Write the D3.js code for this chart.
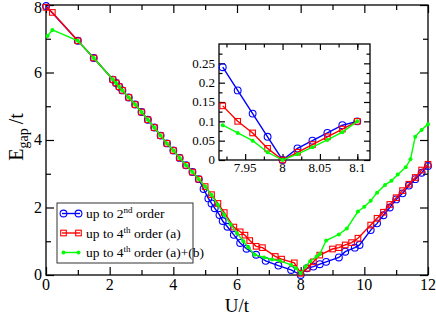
<!DOCTYPE html>
<meta charset="utf-8">
<script src="https://cdn.jsdelivr.net/npm/d3@7"></script>
<div id="my_dataviz"></div>
<script>
  // data
  var u2 = [0, 1.0, 1.5, 2.1, 2.2, 2.3, 2.4, 2.6, 2.8, 3.0, 3.2, 3.4, 3.6, 3.8, 4.0, 4.2, 4.4, 4.6, 4.8, 4.95, 5.1, 5.2, 5.3, 5.45, 5.55, 5.7, 5.9, 6.1, 6.3, 6.6, 6.9, 7.3, 7.7, 8.0, 8.2, 8.4, 8.6, 8.8, 9.2, 9.4, 9.7, 9.85, 10.2, 10.4, 10.6, 10.8, 11.0, 11.2, 11.4, 11.6, 11.8, 12.0];
  var e2 = [7.97, 6.94, 6.43, 5.79, 5.69, 5.58, 5.47, 5.26, 5.05, 4.83, 4.60, 4.37, 4.13, 3.90, 3.69, 3.47, 3.25, 3.05, 2.84, 2.55, 2.27, 2.12, 1.98, 1.78, 1.60, 1.43, 1.19, 0.95, 0.78, 0.60, 0.42, 0.28, 0.15, 0.0, 0.2, 0.25, 0.32, 0.39, 0.52, 0.69, 0.81, 0.89, 1.33, 1.53, 1.77, 2.0, 2.24, 2.42, 2.65, 2.84, 3.03, 3.23];

  var u4 = [0, 0.2, 1.0, 1.5, 2.1, 2.2, 2.3, 2.4, 2.6, 2.8, 3.0, 3.2, 3.4, 3.6, 3.8, 4.0, 4.2, 4.4, 4.6, 4.8, 5.0, 5.2, 5.4, 5.6, 5.9, 6.1, 6.25, 6.4, 6.6, 6.8, 7.2, 7.4, 7.8, 8.0, 8.2, 8.4, 8.6, 9.0, 9.2, 9.4, 9.6, 9.8, 10.2, 10.4, 10.6, 10.8, 11.0, 11.2, 11.4, 11.6, 11.8, 12.0];
  var e4 = [7.93, 7.78, 6.94, 6.43, 5.79, 5.69, 5.58, 5.47, 5.26, 5.05, 4.83, 4.60, 4.37, 4.13, 3.90, 3.69, 3.47, 3.25, 3.05, 2.84, 2.62, 2.38, 2.12, 1.85, 1.42, 1.28, 1.18, 1.02, 0.85, 0.81, 0.55, 0.47, 0.36, 0.05, 0.2, 0.39, 0.59, 0.77, 0.81, 0.89, 0.96, 1.09, 1.48, 1.68, 1.86, 2.09, 2.29, 2.5, 2.69, 2.89, 3.11, 3.28];

  var uAB = [0.05, 0.2, 1.0, 1.5, 2.1, 2.2, 2.3, 2.4, 2.6, 2.8, 3.0, 3.2, 3.4, 3.6, 3.8, 4.0, 4.2, 4.4, 4.6, 4.8, 5.0, 5.2, 5.4, 5.6, 5.8, 6.0, 6.2, 6.35, 6.55, 6.85, 7.1, 7.35, 7.7, 7.85, 8.0, 8.15, 8.3, 8.5, 8.6, 8.8, 9.2, 9.45, 9.8, 10.0, 10.2, 10.4, 10.65, 10.85, 11.05, 11.3, 11.45, 11.6, 11.8, 12.0];
  var eAB = [7.08, 7.26, 6.94, 6.43, 5.79, 5.69, 5.58, 5.47, 5.26, 5.05, 4.83, 4.60, 4.37, 4.13, 3.90, 3.69, 3.47, 3.25, 3.05, 2.84, 2.62, 2.37, 2.08, 1.78, 1.50, 1.24, 1.00, 0.82, 0.60, 0.52, 0.46, 0.42, 0.30, 0.2, 0.05, 0.25, 0.41, 0.55, 0.62, 1.02, 1.20, 1.38, 1.88, 2.02, 2.2, 2.44, 2.67, 2.79, 2.98, 3.19, 3.43, 4.1, 4.3, 4.47];

  // inset: zoom around U/t = 8
  var insetU = [7.92, 7.94, 7.96, 7.98, 8.0, 8.02, 8.04, 8.06, 8.08, 8.1];
  var inset2 = [0.24, 0.18, 0.12, 0.06, 0, 0.03, 0.05, 0.07, 0.09, 0.1];
  var inset4 = [0.14, 0.10, 0.07, 0.03, 0, 0.02, 0.04, 0.06, 0.08, 0.1];
  var insetAB = [0.09, 0.07, 0.05, 0.02, 0, 0.015, 0.033, 0.052, 0.072, 0.1];

  var xTicks = [0, 2, 4, 6, 8, 10, 12];
  var yTicks = [0, 2, 4, 6, 8];
  var insetXTicks = [7.95, 8, 8.05, 8.1];
  var insetYTicks = [0, 0.05, 0.1, 0.15, 0.2, 0.25];

  var legendLabels = [["up to 2", "nd", " order"], ["up to 4", "th", " order (a)"], ["up to 4", "th", " order (a)+(b)"]];

  var width = 436, height = 315;
  var svg = d3.select("#my_dataviz").append("svg")
    .attr("width", width).attr("height", height)
    .style("position", "absolute").style("left", "0px").style("top", "0px");

  var x = d3.scaleLinear().domain([0, 12]).range([46, 428]);
  var y = d3.scaleLinear().domain([0, 8]).range([275, 5]);

  var blue = "#0000ff", red = "#ff0000", green = "#00ff00";

  function zip(a, b) { return a.map(function (d, i) { return [d, b[i]]; }); }

  // text helper: always serif
  function txt(g) {
    return g.append("text").style("font-family", "'Liberation Serif'").attr("fill", "#000");
  }

  // ticks on all four sides, pointing inward; labels drawn by hand
  function frameAxes(g, xs, ys, xt, yt, xMinor, yMinor, major, minor, fontSize, fmt) {
    var r = xs.range(), ry = ys.range();
    var sides = [
      [d3.axisBottom(xs), "translate(0," + ry[0] + ")"],
      [d3.axisTop(xs), "translate(0," + ry[1] + ")"],
      [d3.axisLeft(ys), "translate(" + r[0] + ",0)"],
      [d3.axisRight(ys), "translate(" + r[1] + ",0)"]
    ];
    sides.forEach(function (s, i) {
      var isX = i < 2;
      g.append("g").attr("transform", s[1])
        .call(s[0].tickValues(isX ? xt : yt).tickSize(-major).tickFormat(""))
        .select(".domain").remove();
      g.append("g").attr("transform", s[1])
        .call(s[0].tickValues(isX ? xMinor : yMinor).tickSize(-minor).tickFormat(""))
        .select(".domain").remove();
    });
    g.selectAll(".tick line").attr("stroke", "#000").attr("stroke-width", 1.2);
    g.selectAll(".tick text").remove();
    xt.forEach(function (v) {
      txt(g).attr("x", xs(v)).attr("y", ry[0] + fontSize * 0.95)
        .attr("text-anchor", "middle").style("font-size", fontSize + "px").text(fmt(v));
    });
    yt.forEach(function (v) {
      var yy = Math.max(ys(v) + fontSize * 0.34, fontSize * 0.82);
      txt(g).attr("x", r[0] - 4).attr("y", yy)
        .attr("text-anchor", "end").style("font-size", fontSize + "px").text(fmt(v));
    });
    g.append("rect")
      .attr("x", r[0]).attr("y", ry[1])
      .attr("width", r[1] - r[0]).attr("height", ry[0] - ry[1])
      .attr("fill", "none").attr("stroke", "#000").attr("stroke-width", 1.3);
  }

  function drawSeries(g, xs, ys, pts, color, kind) {
    g.append("path").datum(pts)
      .attr("d", d3.line().x(function (d) { return xs(d[0]); }).y(function (d) { return ys(d[1]); }))
      .attr("fill", "none").attr("stroke", color).attr("stroke-width", 1.4);
    drawMarkers(g, pts.map(function (d) { return [xs(d[0]), ys(d[1])]; }), color, kind);
  }

  function drawMarkers(g, pix, color, kind) {
    if (kind === "circle") {
      g.selectAll(null).data(pix).enter().append("circle")
        .attr("cx", function (d) { return d[0]; }).attr("cy", function (d) { return d[1]; })
        .attr("r", 3.4).attr("fill", "none").attr("stroke", color).attr("stroke-width", 1.1);
    } else if (kind === "square") {
      g.selectAll(null).data(pix).enter().append("rect")
        .attr("x", function (d) { return d[0] - 2.8; }).attr("y", function (d) { return d[1] - 2.8; })
        .attr("width", 5.6).attr("height", 5.6)
        .attr("fill", "none").attr("stroke", color).attr("stroke-width", 1.1);
    } else {
      g.selectAll(null).data(pix).enter().append("circle")
        .attr("cx", function (d) { return d[0]; }).attr("cy", function (d) { return d[1]; })
        .attr("r", 2).attr("fill", color);
    }
  }

  var fmt = d3.format("~g");

  // main plot
  var main = svg.append("g");
  frameAxes(main, x, y, xTicks, yTicks, d3.range(1, 12, 2), d3.range(1, 8, 2), 8, 5, 16, fmt);
  drawSeries(main, x, y, zip(u2, e2), blue, "circle");
  drawSeries(main, x, y, zip(u4, e4), red, "square");
  drawSeries(main, x, y, zip(uAB, eAB), green, "dot");

  // axis titles
  txt(svg).attr("x", 237).attr("y", 312).attr("text-anchor", "middle")
    .style("font-size", "19px").text("U/t");
  var yl = txt(svg).attr("transform", "translate(23,137) rotate(-90)")
    .attr("text-anchor", "middle").style("font-size", "20px");
  yl.append("tspan").text("E");
  yl.append("tspan").attr("dy", 5).style("font-size", "14px").text("gap");
  yl.append("tspan").attr("dy", -5).attr("dx", 4).text("/t");

  // legend
  var leg = svg.append("g");
  leg.append("rect").attr("x", 57).attr("y", 203).attr("width", 136).attr("height", 60)
    .attr("fill", "#fff").attr("stroke", "#333").attr("stroke-width", 1);
  var legColors = [blue, red, green], legKinds = ["circle", "square", "dot"];
  legendLabels.forEach(function (lab, i) {
    var yy = 213.5 + i * 19.5;
    leg.append("line").attr("x1", 62).attr("x2", 80).attr("y1", yy).attr("y2", yy)
      .attr("stroke", legColors[i]).attr("stroke-width", 1.4);
    drawMarkers(leg, [[63.5, yy], [78.5, yy]], legColors[i], legKinds[i]);
    var t = txt(leg).attr("x", 86).attr("y", yy + 4.5).style("font-size", "13.5px");
    t.append("tspan").text(lab[0]);
    t.append("tspan").attr("dy", -5).style("font-size", "9px").text(lab[1]);
    t.append("tspan").attr("dy", 5).text(lab[2]);
  });

  // inset
  var xi = d3.scaleLinear().domain([7.915, 8.117]).range([219, 370]);
  var yi = d3.scaleLinear().domain([0, 0.3]).range([160, 44]);
  var inset = svg.append("g");
  inset.append("rect").attr("x", 219).attr("y", 44).attr("width", 151).attr("height", 116).attr("fill", "#fff");
  frameAxes(inset, xi, yi, insetXTicks, insetYTicks,
    [7.925, 7.975, 8.025, 8.075, 8.1], [0.025, 0.075, 0.125, 0.175, 0.225, 0.275], 6, 3.5, 13, fmt);
  drawSeries(inset, xi, yi, zip(insetU, inset2), blue, "circle");
  drawSeries(inset, xi, yi, zip(insetU, inset4), red, "square");
  drawSeries(inset, xi, yi, zip(insetU, insetAB), green, "dot");
</script>
